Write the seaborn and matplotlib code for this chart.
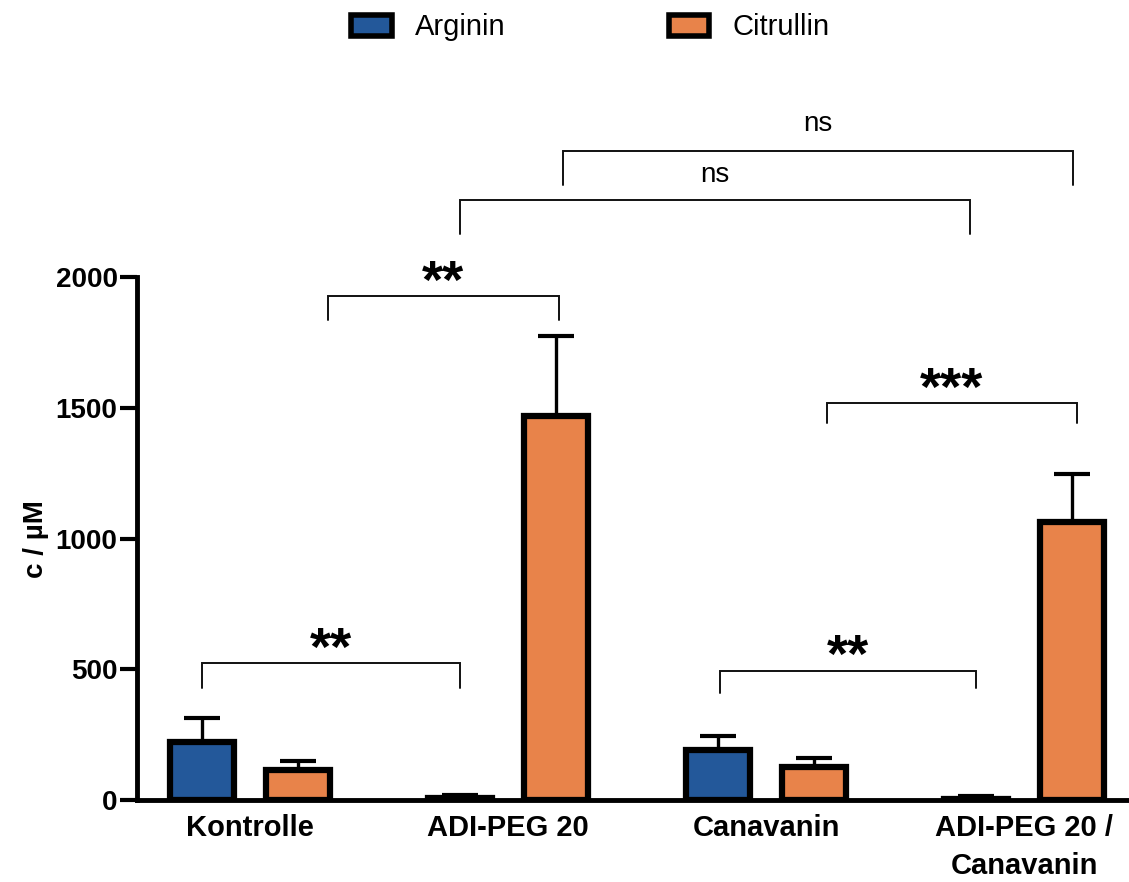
import numpy as np
import pandas as pd
import matplotlib
matplotlib.use("Agg")
import matplotlib.pyplot as plt
from matplotlib.patches import Patch, Rectangle
import seaborn as sns

# ---------------- data ----------------
groups = ["Kontrolle", "ADI-PEG 20", "Canavanin", "ADI-PEG 20 /\nCanavanin"]
series = ["Arginin", "Citrullin"]
arginin = [222, 8, 191, 5]
arginin_err = [92, 12, 54, 10]
citrullin = [115, 1468, 126, 1065]
citrullin_err = [34, 308, 35, 184]
y_ticks = [0, 500, 1000, 1500, 2000]
y_label = "c / µM"
colors = ["#23589A", "#E8834A"]

# significance annotations: (x1, x2, bar_y, left_leg_y, right_leg_y, label, label_y)
sig_marks = [
    (-0.186, 0.814, 524, 429, 429, "**", 570),
    (0.302, 1.198, 1929, 1837, 1837, "**", 1975),
    (0.814, 2.791, 2296, 2166, 2166, "ns", 2393),
    (1.213, 3.190, 2484, 2354, 2354, "ns", 2588),
    (1.822, 2.814, 494, 409, 429, "**", 543),
    (2.236, 3.205, 1519, 1443, 1443, "***", 1565),
]

df = pd.DataFrame({
    "group": groups * 2,
    "series": [series[0]] * 4 + [series[1]] * 4,
    "value": arginin + citrullin,
})
err_lookup = {(g, series[0]): e for g, e in zip(groups, arginin_err)}
err_lookup.update({(g, series[1]): e for g, e in zip(groups, citrullin_err)})

# ---------------- style ----------------
sns.set_theme(style="ticks")
plt.rcParams["font.family"] = ["Liberation Sans", "DejaVu Sans"]
plt.rcParams["text.color"] = "black"
plt.rcParams["axes.labelcolor"] = "black"
plt.rcParams["xtick.color"] = "black"
plt.rcParams["ytick.color"] = "black"

fig = plt.figure(figsize=(11.29, 8.82), dpi=100)
ax = fig.add_axes([0.1213, 0.0930, 0.8787, 0.5926])

sns.barplot(
    data=df, x="group", y="value", hue="series",
    order=groups, hue_order=series, palette=colors, saturation=1,
    width=0.744, gap=0.333, edgecolor="black", linewidth=4.5,
    errorbar=None, legend=False, ax=ax, zorder=2,
)

# one-sided error bars positioned on the drawn bars
bars = [p for p in ax.patches if isinstance(p, Rectangle)]
bars = sorted(bars, key=lambda p: p.get_x())
order_keys = [(g, s) for g in groups for s in series]
cx = [p.get_x() + p.get_width() / 2 for p in bars]
hy = [p.get_height() for p in bars]
errs = [err_lookup[k] for k in order_keys]
ax.errorbar(cx, hy, yerr=[np.zeros(len(errs)), errs], fmt="none",
            ecolor="black", elinewidth=2.4, capsize=13, capthick=3, zorder=1)

ax.set_xlim(-0.438, 3.407)
ax.set_ylim(0, 2000)
ax.set_yticks(y_ticks)
sns.despine(ax=ax)
for side in ["left", "bottom"]:
    ax.spines[side].set_linewidth(3.5)
    ax.spines[side].set_color("black")

ax.tick_params(axis="y", length=12, width=3, labelsize=20, pad=2, color="black")
ax.tick_params(axis="x", length=0, labelsize=21, pad=10)
for lab in ax.get_xticklabels() + ax.get_yticklabels():
    lab.set_fontweight("bold")
    lab.set_color("black")
ax.get_xticklabels()[-1].set_linespacing(1.45)

ax.set_xlabel("")
ax.set_ylabel(y_label, fontsize=20, fontweight="bold", color="black")
ax.yaxis.set_label_coords(-0.089, 0.5)

# significance brackets
for x1, x2, y, yl1, yl2, lab, ty in sig_marks:
    ax.plot([x1, x1, x2, x2], [yl1, y, y, yl2], color="#111111", lw=1.4,
            clip_on=False, solid_joinstyle="miter", zorder=3)
    if "*" in lab:
        ax.text((x1 + x2) / 2, ty, lab, ha="center", va="center", color="black",
                fontsize=39, fontweight="bold", clip_on=False)
    else:
        ax.text((x1 + x2) / 2, ty, lab, ha="center", va="center", color="black",
                fontsize=20, clip_on=False)

handles = [Patch(facecolor=c, edgecolor="black", linewidth=4, label=s)
           for c, s in zip(colors, series)]
fig.legend(handles=handles, loc="center", bbox_to_anchor=(0.523, 0.969),
           ncol=2, frameon=False, fontsize=21, handlelength=1.38,
           handleheight=0.72, handletextpad=0.8, columnspacing=5.6,
           labelcolor="black")

fig.savefig("out.png", dpi=100)
